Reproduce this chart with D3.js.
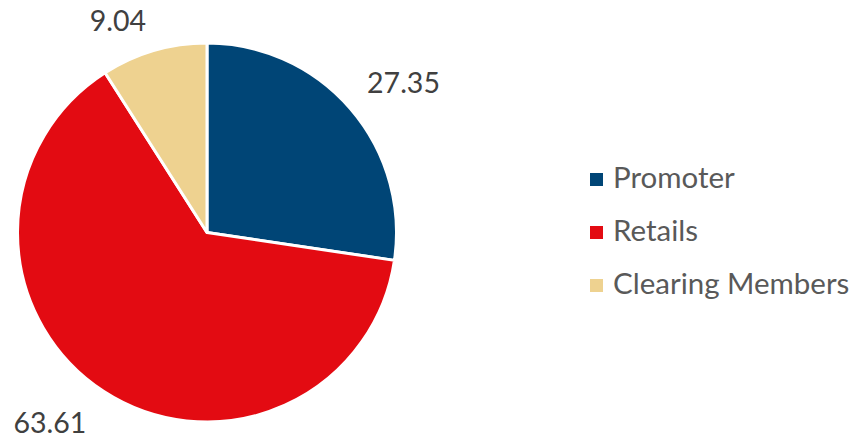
<!DOCTYPE html>
<html>
<head>
<meta charset="utf-8">
<script src="https://cdn.jsdelivr.net/npm/d3@7"></script>
<style>
  body { margin: 0; background: #fff; }
  text { font-family: Lato, "Open Sans", sans-serif; }
</style>
</head>
<body>
<div id="app"></div>
<script>
// chart data
const categories = ['Promoter', 'Retails', 'Clearing Members']
const values = [27.35, 63.61, 9.04]
const colors = ['#004576', '#E30B12', '#EED290']

const size = { width: 856, height: 440 }
const pieSize = { cx: 207, cy: 232.5, r: 189.5 }
// label nudge from slice edge at mid angle (Excel "best fit" placement)
const labelNudge = [[53, -26], [-54, 32], [-36, -30]]

const svg = d3.select('#app')
  .append('svg')
  .attr('width', size.width)
  .attr('height', size.height)

const pie = d3.pie().sort(null).value(d => d)
const arcs = pie(values)

const arc = d3.arc().innerRadius(0).outerRadius(pieSize.r)

const g = svg.append('g')
  .attr('transform', `translate(${pieSize.cx},${pieSize.cy})`)

g.selectAll('path')
  .data(arcs)
  .enter()
  .append('path')
  .attr('d', arc)
  .attr('fill', (d, i) => colors[i])
  .attr('stroke', '#fff')
  .attr('stroke-width', 3)
  .attr('stroke-linejoin', 'round')

g.selectAll('text.lbl')
  .data(arcs)
  .enter()
  .append('text')
  .attr('class', 'lbl')
  .attr('x', (d, i) => Math.sin((d.startAngle + d.endAngle) / 2) * pieSize.r + labelNudge[i][0])
  .attr('y', (d, i) => -Math.cos((d.startAngle + d.endAngle) / 2) * pieSize.r + labelNudge[i][1])
  .attr('dy', '0.35em')
  .attr('text-anchor', 'middle')
  .attr('font-size', 28.5)
  .attr('fill', '#404040')
  .text(d => d.data.toFixed(2))

// legend
const legend = svg.append('g').attr('transform', 'translate(590,0)')
const rows = legend.selectAll('g')
  .data(categories)
  .enter()
  .append('g')
  .attr('transform', (d, i) => `translate(0,${188 + i * 53})`)

rows.append('rect')
  .attr('x', 0)
  .attr('y', -15)
  .attr('width', 13)
  .attr('height', 13)
  .attr('fill', (d, i) => colors[i])

rows.append('text')
  .attr('x', 23)
  .attr('y', 0)
  .attr('font-size', 29.5)
  .attr('fill', '#595959')
  .text(d => d)
</script>
</body>
</html>
